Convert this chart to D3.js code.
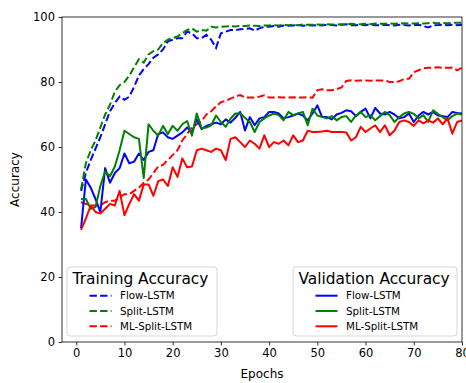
<!DOCTYPE html>
<html>
<head>
<meta charset="utf-8">
<script src="https://cdn.jsdelivr.net/npm/d3@7"></script>
<style>
  body { margin: 0; background: #fff; }
  svg { display: block; font-family: "DejaVu Sans", sans-serif; }
</style>
</head>
<body>
<script>
var W = 466, H = 383;
var plotL = 62, plotR = 462, plotT = 17, plotB = 342;

// series names + colours
var models = ["Flow-LSTM", "Split-LSTM", "ML-Split-LSTM"];
var colors = ["#0000ff", "#008000", "#ff0000"];
var xTicks = [0, 10, 20, 30, 40, 50, 60, 70, 80];
var yTicks = [0, 20, 40, 60, 80, 100];

// training accuracy, epochs 1..80
var flowTrain = [46.5, 52, 56, 59.5, 63, 67, 71, 73.5, 75.5, 74.5,
  75.5, 78.5, 82, 84, 85.5, 87.5, 88.5, 90, 92.5, 93,
  93.5, 93.5, 95.5, 95, 93.5, 93.5, 94.5, 93, 90.5, 95,
  95.5, 96, 96, 96.2, 96.3, 96.5, 95.8, 96.5, 97, 97,
  97.2, 97, 97.4, 97.3, 97.4, 97.5, 97.3, 97.5, 97.4, 97.5,
  97.4, 97.6, 97.5, 97.4, 97.6, 97.8, 97.5, 97.5, 97.6, 97.5,
  97.8, 97.5, 97.5, 97.6, 97.5, 97.4, 97.6, 97.5, 97.4, 97.5,
  97.6, 97.2, 96.8, 97.4, 97.5, 97.6, 97.5, 97.6, 97.5, 97.6];
var splitTrain = [47, 55, 59, 62, 66, 70, 73, 77, 79, 80,
  82, 84.5, 87, 86, 88.5, 89.5, 90, 92, 93, 93.5,
  94, 95, 96, 96.5, 95.5, 96, 95.8, 97, 96.8, 97,
  97.1, 97.2, 97.1, 97.3, 97.2, 97.4, 97.3, 97.2, 97.4, 97.4,
  97.5, 97.4, 97.6, 97.5, 97.6, 97.5, 97.7, 97.6, 97.6, 97.7,
  97.6, 97.8, 97.7, 97.7, 97.8, 97.7, 97.9, 97.8, 97.8, 97.9,
  97.8, 98, 97.9, 97.9, 98, 97.9, 98, 98.1, 98, 98,
  98.1, 98, 98.1, 98.2, 98.1, 98.2, 98.1, 98.2, 98.2, 98.2];
var mlTrain = [43, 42.5, 42, 42, 42, 43, 43.5, 43.5, 44.5, 45.5,
  45.5, 46.5, 47.5, 49, 50, 52, 54, 54.5, 56, 57.5,
  59, 62, 64, 66, 67, 68, 70, 71, 72.5, 73.8,
  74.2, 74.9, 75.5, 76, 75.2, 75.2, 75.2, 75.5, 75.9, 75.2,
  75.2, 75.3, 75.2, 75.2, 75.3, 75.2, 75.2, 75.3, 75.2, 77.5,
  77.8, 77.5, 77.5, 77.8, 78.3, 80.3, 80.5, 80.4, 80.5, 80.5,
  80.4, 80.5, 80.5, 80.5, 80, 80, 80.2, 81, 81, 83,
  83.6, 84.2, 84.4, 84.4, 84.5, 84.4, 84.4, 84.4, 83.6, 84.4];

// validation accuracy, epochs 1..80
var flowVal = [35, 50, 47.5, 44, 40, 53.5, 49, 52, 53.5, 58,
  55, 55.5, 58, 56, 58.5, 59, 64, 64.5, 63, 62.5,
  63.5, 64.5, 66, 64.5, 68.5, 65.5, 66.5, 67, 67.5, 67,
  68.5, 67.5, 69, 70.8, 65.1, 69.2, 66.7, 68.8, 69.2, 70.8,
  70.8, 70.3, 68.8, 69.2, 69.7, 70.3, 69.7, 68.2, 70.3, 72.8,
  69.2, 69.2, 68.5, 70, 70.5, 71.3, 71, 69.5, 70.8, 71.8,
  68.8, 72, 70.3, 70, 70.8, 70, 68.8, 69.2, 70.3, 67.7,
  69.7, 70.8, 70, 70.8, 69.7, 69.5, 69.2, 70.8, 70.5, 70.3];
var splitVal = [44, 44, 41, 41.5, 48, 52.5, 51, 54, 59, 65,
  64, 63, 62.5, 50.5, 67, 65, 63.5, 66.5, 64, 66.5,
  65, 67, 68, 63.5, 70.3, 65.8, 66, 66.7, 69.7, 67.7,
  66.2, 68.7, 70.3, 70.3, 69, 67.7, 64.6, 67.7, 68.8, 69.7,
  70.3, 69.8, 68.2, 70.8, 69.8, 70.3, 70.8, 66.7, 71.8, 69.7,
  69.2, 68.8, 69.5, 68.2, 69.2, 69.5, 67.7, 69.7, 70.8, 69.2,
  69.8, 68.2, 69.5, 70.8, 69.8, 67.7, 69.2, 70.3, 70.8, 70.2,
  68.8, 69.8, 67.7, 71.3, 70.2, 69.2, 68.2, 69.5, 70.3, 70];
var mlVal = [34.5, 38, 42, 40, 39.5, 41, 42.5, 42, 46.5, 39,
  42.5, 45.5, 43.5, 48.5, 48.5, 45, 49.5, 50, 48, 53.8,
  50.8, 56.5, 53.8, 54, 59, 59.5, 59, 58.5, 59.5, 59,
  56, 62.5, 63, 61.5, 60, 62, 61, 59.5, 63.6, 60,
  61.5, 61, 62, 60.5, 63.6, 61.5, 62, 65, 64.6, 64.6,
  64.8, 65, 64.6, 64.6, 64.6, 64.5, 62, 63, 66.2, 64.6,
  65.7, 66.7, 64.6, 66.7, 63.6, 65.1, 67.7, 68.2, 67.7, 66.5,
  68.2, 67.3, 68.2, 67.5, 68.8, 67, 68.8, 64.1, 67.7, 68.2];

var trainSeries = [flowTrain, splitTrain, mlTrain];
var valSeries = [flowVal, splitVal, mlVal];
var epochs = d3.range(1, flowTrain.length + 1);

var svg = d3.select("body").append("svg")
  .attr("width", W)
  .attr("height", H);

var x = d3.scaleLinear().domain([-2.95, 80]).range([plotL, plotR]);
var y = d3.scaleLinear().domain([0, 100]).range([plotB, plotT]);

svg.append("clipPath").attr("id", "clip")
  .append("rect")
  .attr("x", plotL).attr("y", plotT)
  .attr("width", plotR - plotL).attr("height", plotB - plotT);

var line = d3.line()
  .x(function(d, i) { return x(epochs[i]); })
  .y(function(d) { return y(d); });

var plot = svg.append("g").attr("clip-path", "url(#clip)");

trainSeries.forEach(function(s, k) {
  plot.append("path")
    .attr("d", line(s))
    .attr("fill", "none")
    .attr("stroke", colors[k])
    .attr("stroke-width", 2)
    .attr("stroke-dasharray", "7.4,3.2");
});
valSeries.forEach(function(s, k) {
  plot.append("path")
    .attr("d", line(s))
    .attr("fill", "none")
    .attr("stroke", colors[k])
    .attr("stroke-width", 2)
    .attr("stroke-linejoin", "round");
});

// axes
var xAxis = svg.append("g")
  .attr("transform", "translate(0," + plotB + ")")
  .call(d3.axisBottom(x).tickValues(xTicks).tickSize(3.5).tickPadding(3.5));
var yAxis = svg.append("g")
  .attr("transform", "translate(" + plotL + ",0)")
  .call(d3.axisLeft(y).tickValues(yTicks).tickSize(3.5).tickPadding(3.5));

[xAxis, yAxis].forEach(function(a) {
  a.select(".domain").remove();
  a.selectAll("line").attr("stroke", "#000").attr("stroke-width", 0.8);
  a.selectAll("text")
    .attr("font-family", "DejaVu Sans")
    .attr("font-size", 11.5)
    .attr("fill", "#000");
});

svg.append("rect")
  .attr("x", plotL).attr("y", plotT)
  .attr("width", plotR - plotL).attr("height", plotB - plotT)
  .attr("fill", "none")
  .attr("stroke", "#000")
  .attr("stroke-width", 0.8);

svg.append("text")
  .attr("x", (plotL + plotR) / 2).attr("y", 378)
  .attr("text-anchor", "middle")
  .attr("font-size", 12)
  .text("Epochs");

svg.append("text")
  .attr("transform", "translate(19," + (plotT + plotB) / 2 + ") rotate(-90)")
  .attr("text-anchor", "middle")
  .attr("font-size", 12)
  .text("Accuracy");

// legends
var drawLegend = function(bx, bw, title, dashed) {
  var g = svg.append("g");
  g.append("rect")
    .attr("x", bx).attr("y", 267)
    .attr("width", bw).attr("height", 69)
    .attr("rx", 3)
    .attr("fill", "#fff").attr("fill-opacity", 0.8)
    .attr("stroke", "#cccccc").attr("stroke-width", 0.8);
  g.append("text")
    .attr("x", bx + 5.5).attr("y", 283.5)
    .attr("font-size", 15.4)
    .text(title);
  models.forEach(function(m, k) {
    var cy = 295.7 + k * 15.3;
    g.append("line")
      .attr("x1", bx + 22.5).attr("x2", bx + 44.5)
      .attr("y1", cy).attr("y2", cy)
      .attr("stroke", colors[k])
      .attr("stroke-width", 2)
      .attr("stroke-dasharray", dashed ? "7.4,3.2" : null);
    g.append("text")
      .attr("x", bx + 53).attr("y", cy + 3.7)
      .attr("font-size", 10.3)
      .text(m);
  });
};

drawLegend(67, 150, "Training Accuracy", true);
drawLegend(293, 164, "Validation Accuracy", false);
</script>
</body>
</html>
